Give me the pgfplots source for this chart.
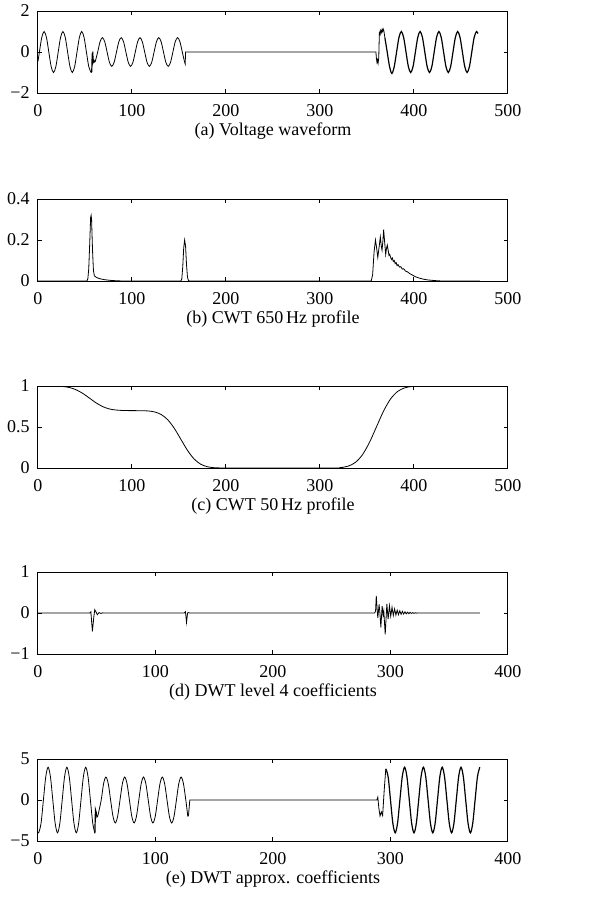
\documentclass[border=0pt]{standalone}
\usepackage{fontspec}
\setmainfont{Liberation Serif}
\usepackage{pgfplots}
\pgfplotsset{compat=1.18}
\pgfplotsset{
  panel/.style={
    scale only axis, width=235pt, height=41pt,
    anchor=north west, xmin=0,
    tick align=inside, major tick length=2pt,
    tick style={black, line width=0.5pt},
    axis line style={line width=0.5pt},
    xticklabel style={yshift=-2.5pt},
    yticklabel style={xshift=-1pt},
    xlabel style={at={(axis description cs:0.5,0)}, anchor=base, yshift=-21pt},
    cycle list={{black, line width=0.6pt, mark=none}},
  },
}
\begin{document}
\fontsize{9}{11}\selectfont
\begin{tikzpicture}
\path[use as bounding box] (0,0) rectangle (294.5pt,-453.5pt);

% (a) voltage
\begin{axis}[panel, at={(19pt,-5.5pt)}, xmax=500, ymin=-2, ymax=2,
  xtick={0,100,200,300,400,500}, xticklabels={0,100,200,300,400,500},
  ytick={-2,0,2}, yticklabels={−2,0,2},
  xlabel={(a) Voltage waveform}]
\addplot+[smooth] coordinates {(0,-0.45) (1.5,0) (4,0.71) (6.5,1) (9,0.71) (11.5,0) (14,-0.71) (16.5,-1) (19,-0.71) (21.5,0) (24,0.71) (26.5,1) (29,0.71) (31.5,0) (34,-0.71) (36.5,-1) (39,-0.71) (41.5,0) (44,0.71) (46.5,1) (49,0.71) (51.5,0) (54,-0.71) (56.5,-1)};
\addplot+[sharp plot] coordinates {(56.5,-1) (57.2,-0.95) (57.7,-0.1) (58.2,-0.05) (58.8,-0.5) (59.6,-0.42) (60.4,-0.48) (61,-0.45)};
\addplot+[smooth] coordinates {(61,-0.45) (63.5,0) (66,0.5) (68.5,0.7) (71,0.5) (73.5,0) (76,-0.5) (78.5,-0.7) (81,-0.5) (83.5,0) (86,0.5) (88.5,0.7) (91,0.5) (93.5,0) (96,-0.5) (98.5,-0.7) (101,-0.5) (103.5,0) (106,0.5) (108.5,0.7) (111,0.5) (113.5,0) (116,-0.5) (118.5,-0.7) (121,-0.5) (123.5,0) (126,0.5) (128.5,0.7) (131,0.5) (133.5,0) (136,-0.5) (138.5,-0.7) (141,-0.5) (143.5,0) (146,0.5) (148.5,0.7) (151,0.5) (153.5,0) (156,-0.5)};
\addplot+[sharp plot] coordinates {(156,-0.5) (156.6,-0.58) (157,0) (359.5,0) (360,-0.3) (360.6,-0.5) (361.2,-0.38) (361.8,-0.55) (362.5,-0.3) (363.2,0.95) (364,0.85) (364.6,1.05) (365.3,0.95) (366,1.1) (366.6,1.0) (367.3,1.12) (368,1.02) (369,0.71)};
\addplot+[smooth] coordinates {(369,0.71) (371.5,0) (374,-0.71) (376.5,-1.05) (379,-0.71) (381.5,0) (384,0.71) (386.5,1) (389,0.71) (391.5,0) (394,-0.71) (396.5,-1) (399,-0.71) (401.5,0) (404,0.71) (406.5,1) (409,0.71) (411.5,0) (414,-0.71) (416.5,-1) (419,-0.71) (421.5,0) (424,0.71) (426.5,1) (429,0.71) (431.5,0) (434,-0.71) (436.5,-1) (439,-0.71) (441.5,0) (444,0.71) (446.5,1) (449,0.71) (451.5,0) (454,-0.71) (456.5,-1) (459,-0.71) (461.5,0) (464,0.71) (466.5,1) (468,0.9)};
\end{axis}

% (b) CWT 650 Hz
\begin{axis}[panel, at={(19pt,-99.5pt)}, xmax=500, ymin=0, ymax=0.4,
  xtick={0,100,200,300,400,500}, xticklabels={0,100,200,300,400,500},
  ytick={0,0.2,0.4}, yticklabels={0,0.2,0.4},
  xlabel={(b) CWT 650\,Hz profile}]
\addplot+[sharp plot] coordinates {(0,0) (52,0) (53,0.01) (54,0.06) (55,0.18) (56,0.31) (56.5,0.32) (57,0.3) (58,0.15) (59,0.05) (60,0.025) (62,0.018) (65,0.012) (70,0.007) (75,0.004) (80,0.002) (85,0.001) (90,0)
 (152,0) (153,0.01) (154,0.07) (155,0.16) (156,0.2) (157,0.17) (158,0.08) (159,0.02) (160,0.003) (161,0)
 (354.5,0) (356,0.03) (357.5,0.14) (359,0.2) (360,0.17) (361.5,0.115) (363,0.17) (364.2,0.215) (365.2,0.17) (366,0.15) (367,0.2) (367.7,0.25) (368.6,0.2) (369.9,0.13) (370.8,0.16) (371.6,0.175) (372.5,0.15) (373.4,0.125) (374.2,0.13) (374.8,0.12) (376,0.105) (377,0.112) (378,0.095) (379,0.1) (380,0.085) (381,0.09) (382,0.075) (383,0.08) (384.5,0.068) (386,0.07) (387.5,0.058) (389,0.06) (391,0.048) (393,0.045) (395.5,0.036) (398,0.03) (401,0.022) (405,0.015) (410,0.009) (415,0.005) (420,0.003) (425,0.001) (430,0) (470,0)};
\end{axis}

% (c) CWT 50 Hz
\begin{axis}[panel, at={(19pt,-193pt)}, xmax=500, ymin=0, ymax=1,
  xtick={0,100,200,300,400,500}, xticklabels={0,100,200,300,400,500},
  ytick={0,0.5,1}, yticklabels={0,0.5,1},
  xlabel={(c) CWT 50\,Hz profile}]
\addplot+[smooth] coordinates {(0,1) (13,0.9996) (20,0.998) (27,0.993) (34,0.98) (41,0.952) (48,0.907) (55,0.85) (62,0.793) (69,0.748) (76,0.72) (83,0.707) (90,0.702) (97,0.7) (110,0.699) (117,0.696) (124,0.684) (131,0.653) (138,0.589) (145,0.484) (152,0.35) (159,0.216) (166,0.111) (173,0.047) (180,0.016) (187,0.004) (194,0.001) (200,0) (315,0.001) (322.5,0.006) (330,0.023) (337.5,0.067) (345,0.159) (352.5,0.309) (360,0.5) (367.5,0.691) (375,0.841) (382.5,0.933) (390,0.977) (397.5,0.994) (405,0.999) (420,1) (470,1)};
\end{axis}

% (d) DWT level 4
\begin{axis}[panel, at={(19pt,-286pt)}, xmax=400, ymin=-1, ymax=1,
  xtick={0,100,200,300,400}, xticklabels={0,100,200,300,400},
  ytick={-1,0,1}, yticklabels={−1,0,1},
  xlabel={(d) DWT level 4 coefficients}]
\addplot+[sharp plot] coordinates {(0,0) (44,0) (45,0.03) (46.3,-0.45) (47.5,-0.1) (48.3,0.08) (49.5,0.02) (50.5,-0.04) (52,0.01) (53.5,-0.01) (55,0.005) (56,0)
 (124.5,0) (125.5,0.03) (126.4,-0.23) (127.3,0) (128,0.01) (129,0)
 (286.5,0) (287.3,0.05) (287.9,0.42) (288.6,0.1) (289.2,-0.12) (290.3,0.21) (291,0) (291.8,-0.35) (292.9,0.17) (293.7,-0.05) (294.3,0.05) (295.5,-0.52) (296.9,0.22) (298,-0.15) (299.1,0.18) (300.2,-0.08) (301.3,0.14) (302.4,-0.06) (303.5,0.1) (304.6,-0.05) (305.7,0.07) (306.8,-0.04) (307.9,0.055) (309,-0.03) (310.1,0.04) (311.2,-0.025) (312.3,0.03) (313.4,-0.02) (314.5,0.02) (315.6,-0.015) (316.7,0.015) (317.8,-0.01) (318.9,0.01) (320,-0.008) (321.1,0.006) (322.2,-0.004) (323.3,0.003) (325,0) (376,0)};
\end{axis}

% (e) DWT approximation
\begin{axis}[panel, at={(19pt,-379.5pt)}, xmax=400, ymin=-5, ymax=5,
  xtick={0,100,200,300,400}, xticklabels={0,100,200,300,400},
  ytick={-5,0,5}, yticklabels={−5,0,5},
  xlabel={(e) DWT approx. coefficients}]
\addplot+[smooth] coordinates {(0,-3.9) (0.6,-4) (2.6,-2.83) (4.6,0) (6.6,2.83) (8.6,4) (10.6,2.83) (12.6,0) (14.6,-2.83) (16.6,-4) (18.6,-2.83) (20.6,0) (22.6,2.83) (24.6,4) (26.6,2.83) (28.6,0) (30.6,-2.83) (32.6,-4) (34.6,-2.83) (36.6,0) (38.6,2.83) (40.6,4) (42.6,2.83) (44.6,0) (46.6,-2.83) (48.4,-4.05)};
\addplot+[sharp plot] coordinates {(48.4,-4.05) (48.9,-1.2) (49.5,-1.5) (50.2,-2.05) (51,-1.9)};
\addplot+[smooth] coordinates {(51,-1.9) (53.8,0) (55.8,1.98) (57.8,2.8) (59.8,1.98) (61.8,0) (63.8,-1.98) (65.8,-2.8) (67.8,-1.98) (69.8,0) (71.8,1.98) (73.8,2.8) (75.8,1.98) (77.8,0) (79.8,-1.98) (81.8,-2.8) (83.8,-1.98) (85.8,0) (87.8,1.98) (89.8,2.8) (91.8,1.98) (93.8,0) (95.8,-1.98) (97.8,-2.8) (99.8,-1.98) (101.8,0) (103.8,1.98) (105.8,2.8) (107.8,1.98) (109.8,0) (111.8,-1.98) (113.8,-2.8) (115.8,-1.98) (117.8,0) (119.8,1.98) (121.8,2.8) (123.8,1.98) (125.8,0) (127.5,-2.0)};
\addplot+[sharp plot] coordinates {(127.5,-2) (128.1,-1.85) (129.2,0) (288.4,0) (289.2,0.35) (290.1,-1.0) (291.1,-1.95) (292.2,-1.45) (293.3,-1.9) (294.7,1.3) (296,3.8)};
\addplot+[smooth] coordinates {(296,3.8) (298,2.83) (300,0) (302,-2.83) (304,-4) (306,-2.83) (308,0) (310,2.83) (312,4) (314,2.83) (316,0) (318,-2.83) (320,-4) (322,-2.83) (324,0) (326,2.83) (328,4) (330,2.83) (332,0) (334,-2.83) (336,-4) (338,-2.83) (340,0) (342,2.83) (344,4) (346,2.83) (348,0) (350,-2.83) (352,-4) (354,-2.83) (356,0) (358,2.83) (360,4) (362,2.83) (364,0) (366,-2.83) (368,-4) (370,-2.83) (372,0) (374,2.83) (376,4)};
\end{axis}
\end{tikzpicture}
\end{document}
